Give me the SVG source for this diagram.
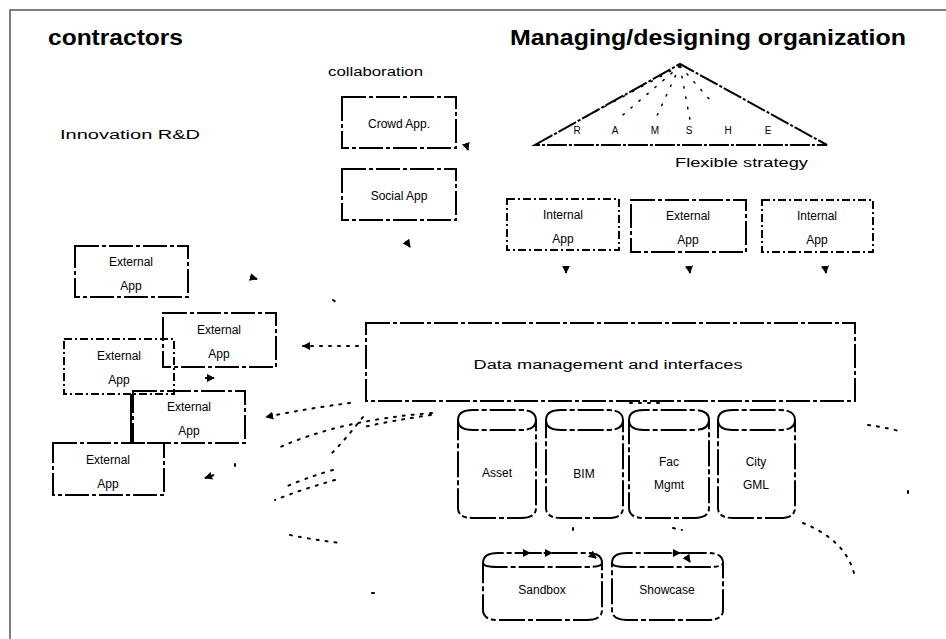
<svg xmlns="http://www.w3.org/2000/svg" width="946" height="639" viewBox="0 0 946 639">
<style>
text{font-family:"Liberation Sans",Arial,sans-serif;fill:#000}
.h{font-size:22px;font-weight:bold}
.t{font-size:12px;text-anchor:middle}
.s{font-size:12px}
.bx{fill:none;stroke:#000;stroke-width:2;stroke-dasharray:24 3 4 3}
.bx2{fill:none;stroke:#000;stroke-width:2;stroke-dasharray:8 3 2 3}
.cy{fill:none;stroke:#000;stroke-width:2;stroke-dasharray:26 3 5 3}
.dot{fill:none;stroke:#000;stroke-width:2;stroke-dasharray:2 7;stroke-linecap:round}
.ln{fill:none;stroke:#000;stroke-width:2}
.tri{fill:none;stroke:#000;stroke-width:2;stroke-dasharray:20 2 3 2}
</style>
<defs>
<marker id="ah" viewBox="0 0 10 10" refX="9" refY="5" markerWidth="4" markerHeight="4" orient="auto">
<path d="M0,0 L10,5 L0,10 z" fill="#000"/>
</marker>
</defs>
<rect width="946" height="639" fill="#fff"/>
<path d="M10,639 L10,10 L946,10" fill="none" stroke="#555" stroke-width="1.5"/>

<g id="titles">
<text class="h" x="48" y="45" textLength="135" lengthAdjust="spacingAndGlyphs">contractors</text>
<text class="h" x="510" y="45" textLength="396" lengthAdjust="spacingAndGlyphs">Managing/designing organization</text>
<text class="s" x="328" y="76" textLength="95" lengthAdjust="spacingAndGlyphs">collaboration</text>
<text class="s" x="60" y="139" textLength="140" lengthAdjust="spacingAndGlyphs">Innovation R&amp;D</text>
</g>

<g id="strategy">
<path class="tri" d="M535,145 L680,64 L827,145 Z"/>
<g class="dot" style="stroke-width:1.5;stroke-dasharray:1.5 9">
<line x1="680" y1="66" x2="580" y2="120"/>
<line x1="680" y1="66" x2="617" y2="120"/>
<line x1="680" y1="66" x2="655" y2="120"/>
<line x1="680" y1="66" x2="690" y2="120"/>
<line x1="680" y1="66" x2="710" y2="100"/>
</g>
<g font-size="10" text-anchor="middle">
<text x="577" y="134">R</text><text x="615" y="134">A</text><text x="655" y="134">M</text>
<text x="689" y="134">S</text><text x="728" y="134">H</text><text x="768" y="134">E</text>
</g>
<text class="s" x="675" y="167" textLength="133" lengthAdjust="spacingAndGlyphs">Flexible strategy</text>
</g>

<g id="crowd-app"><rect class="bx" x="342" y="97" width="114" height="51"/><text class="t" x="399" y="128">Crowd App.</text></g>
<g id="social-app"><rect class="bx" x="342" y="169" width="114" height="51"/><text class="t" x="399" y="200">Social App</text></g>

<g id="internal-app-1"><rect class="bx2" x="507" y="199" width="112" height="51"/><text class="t" x="563" y="219">Internal</text><text class="t" x="563" y="243">App</text></g>
<g id="external-app-1"><rect class="bx" x="631" y="200" width="115" height="52"/><text class="t" x="688" y="220">External</text><text class="t" x="688" y="244">App</text></g>
<g id="internal-app-2"><rect class="bx2" x="762" y="200" width="111" height="52"/><text class="t" x="817" y="220">Internal</text><text class="t" x="817" y="244">App</text></g>

<g id="external-app-a"><rect class="bx" x="75" y="246" width="113" height="51"/><text class="t" x="131" y="266">External</text><text class="t" x="131" y="290">App</text></g>
<g id="external-app-b"><rect class="bx" x="163" y="313" width="113" height="54"/><text class="t" x="219" y="334">External</text><text class="t" x="219" y="358">App</text></g>
<g id="external-app-c"><rect class="bx2" x="64" y="339" width="110" height="55"/><text class="t" x="119" y="360">External</text><text class="t" x="119" y="384">App</text></g>
<g id="external-app-d"><rect class="bx" x="133" y="391" width="112" height="52"/><text class="t" x="189" y="411">External</text><text class="t" x="189" y="435">App</text></g>
<g id="external-app-e"><rect class="bx" x="53" y="443" width="111" height="52"/><text class="t" x="108" y="464">External</text><text class="t" x="108" y="488">App</text></g>

<g id="data-management"><rect class="bx" x="366" y="323" width="489" height="78"/><text class="t" x="608" y="369" textLength="269" lengthAdjust="spacingAndGlyphs">Data management and interfaces</text></g>

<g id="asset"><path class="cy" d="M458,420 Q458,410 473,410 L521,410 Q536,410 536,420 L536,508 Q536,518 521,518 L473,518 Q458,518 458,508 Z M458,420 Q458,430 473,430 L521,430 Q536,430 536,420"/><text class="t" x="497" y="477">Asset</text></g>
<g id="bim"><path class="cy" d="M546,420 Q546,410 561,410 L608,410 Q623,410 623,420 L623,508 Q623,518 608,518 L561,518 Q546,518 546,508 Z M546,420 Q546,430 561,430 L608,430 Q623,430 623,420"/><text class="t" x="584" y="478">BIM</text></g>
<g id="fac-mgmt"><path class="cy" d="M629,420 Q629,410 644,410 L694,410 Q709,410 709,420 L709,508 Q709,518 694,518 L644,518 Q629,518 629,508 Z M629,420 Q629,430 644,430 L694,430 Q709,430 709,420"/><text class="t" x="669" y="466">Fac</text><text class="t" x="669" y="489">Mgmt</text></g>
<g id="city-gml"><path class="cy" d="M718,420 Q718,410 733,410 L780,410 Q795,410 795,420 L795,508 Q795,518 780,518 L733,518 Q718,518 718,508 Z M718,420 Q718,430 733,430 L780,430 Q795,430 795,420"/><text class="t" x="756" y="466">City</text><text class="t" x="756" y="489">GML</text></g>

<g id="sandbox"><path class="cy" d="M483,563 Q483,553 498,553 L587,553 Q602,553 602,563 L602,610 Q602,620 587,620 L498,620 Q483,620 483,610 Z M483,563 Q483,567 498,567 L587,567 Q602,567 602,563"/><text class="t" x="542" y="594">Sandbox</text></g>
<g id="showcase"><path class="cy" d="M612,563 Q612,553 627,553 L708,553 Q723,553 723,563 L723,610 Q723,620 708,620 L627,620 Q612,620 612,610 Z M612,563 Q612,567 627,567 L708,567 Q723,567 723,563"/><text class="t" x="667" y="594">Showcase</text></g>

<g id="connectors">
<line class="ln" x1="131" y1="394" x2="131" y2="443"/>
<line class="dot" x1="358" y1="346" x2="303" y2="346" marker-end="url(#ah)"/>
<path class="dot" d="M350,403 Q310,408 266,417" marker-end="url(#ah)"/>
<path class="dot" d="M432,413 Q340,420 278,448"/>
<path class="dot" d="M363,417 Q345,440 332,453"/>
<path class="dot" d="M333,470 Q305,478 283,488"/>
<path class="dot" d="M431,415 Q395,420 364,427"/>
<path class="dot" d="M335,480 Q300,490 275,500"/>
<path class="dot" d="M290,535 Q315,540 340,543"/>
<path class="dot" d="M868,425 Q890,428 902,432"/>
<path class="dot" d="M803,523 Q845,540 854,573"/>
<line class="dot" x1="630" y1="403" x2="660" y2="403"/>
<line class="dot" x1="573" y1="528" x2="573" y2="532"/>
<line class="dot" x1="673" y1="528" x2="682" y2="530"/>
<line class="dot" x1="333" y1="300" x2="340" y2="305"/>
<line class="dot" x1="372" y1="593" x2="376" y2="593"/>
<line class="dot" x1="908" y1="491" x2="908" y2="493"/>
<line class="dot" x1="235" y1="464" x2="235" y2="466"/>
<line class="dot" x1="530" y1="553" x2="552" y2="553" marker-start="url(#ah)" marker-end="url(#ah)"/>
<line class="dot" x1="660" y1="553" x2="680" y2="553" marker-end="url(#ah)"/>
<line class="ln" x1="592" y1="555" x2="596" y2="558" marker-end="url(#ah)"/>
<line class="ln" x1="688" y1="559" x2="690" y2="562" marker-end="url(#ah)"/>
<line class="ln" x1="466" y1="144" x2="468" y2="150" marker-end="url(#ah)"/>
<line class="ln" x1="406" y1="241" x2="410" y2="247" marker-end="url(#ah)"/>
<line class="ln" x1="566" y1="266" x2="566" y2="273" marker-end="url(#ah)"/>
<line class="ln" x1="689" y1="266" x2="690" y2="273" marker-end="url(#ah)"/>
<line class="ln" x1="825" y1="266" x2="826" y2="273" marker-end="url(#ah)"/>
<line class="ln" x1="250" y1="277" x2="257" y2="279" marker-end="url(#ah)"/>
<line class="ln" x1="205" y1="378" x2="214" y2="378" marker-end="url(#ah)"/>
<line class="ln" x1="214" y1="475" x2="205" y2="478" marker-end="url(#ah)"/>
</g>
</svg>
